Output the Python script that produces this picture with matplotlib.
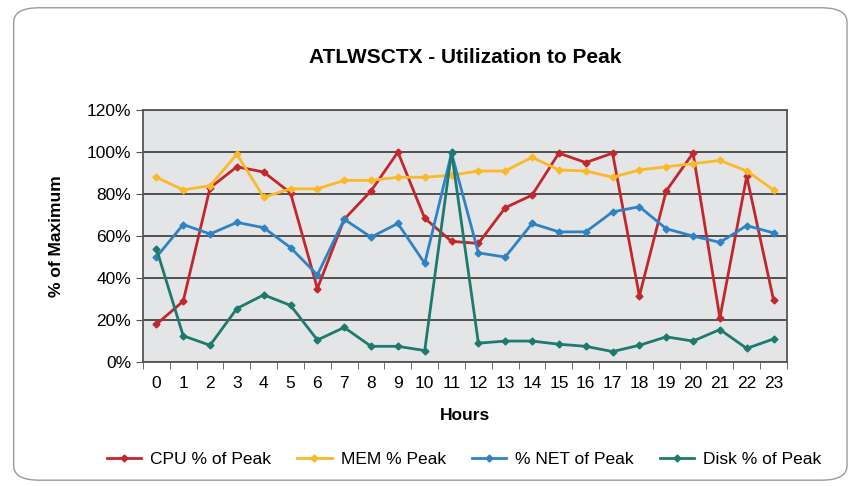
import numpy as np
import matplotlib.pyplot as plt
from matplotlib.patches import FancyBboxPatch
from matplotlib.ticker import FuncFormatter, FixedLocator

plt.rcParams['font.family'] = ['Liberation Sans Narrow', 'Liberation Sans', 'DejaVu Sans']

hours = list(range(24))
cpu = [18, 29, 83, 93, 90.5, 80.5, 35, 68, 81.5, 100, 68.5, 57.5,
       56.5, 73.5, 79.5, 99.5, 95, 99.5, 31.5, 81.5, 99.5, 21, 88.5, 29.5]
mem = [88, 82, 84, 99, 78.5, 82.5, 82.5, 86.5, 86.5, 88, 88, 89,
       91, 91, 97.5, 91.5, 91, 88, 91.5, 93, 94.5, 96, 91, 82]
net = [50, 65.5, 61, 66.5, 64, 54.5, 41.5, 68, 59.5, 66, 47, 99.5,
       52, 50, 66, 62, 62, 71.5, 74, 63.5, 60, 57, 65, 61.5]
disk = [54, 12.5, 8, 25.5, 32, 27, 10.5, 16.5, 7.5, 7.5, 5.5, 100,
        9, 10, 10, 8.5, 7.5, 5, 8, 12, 10, 15.5, 6.5, 11]

series = [
    ('CPU % of Peak', cpu, '#c1272d'),
    ('MEM % Peak', mem, '#fbb829'),
    ('% NET of Peak', net, '#2e83c4'),
    ('Disk % of Peak', disk, '#1d7a6d'),
]

fig = plt.figure(figsize=(8.53, 4.86), dpi=100)

# rounded outer border
border = FancyBboxPatch((0.016, 0.012), 0.977, 0.972,
                        boxstyle='round,pad=0,rounding_size=0.03',
                        transform=fig.transFigure, facecolor='none',
                        edgecolor='#9a9a9a', linewidth=1.0, zorder=-1)
fig.patches.append(border)

ax = fig.add_axes([0.1676, 0.255, 0.755, 0.5185])
ax.set_facecolor('#e4e5e7')

for name, vals, col in series:
    ax.plot(hours, vals, color=col, linewidth=2, marker='D', markersize=3.5,
            label=name, zorder=3)

ax.set_xlim(-0.5, 23.5)
ax.set_ylim(0, 120)
ax.set_yticks(np.arange(0, 121, 20))
ax.yaxis.set_major_formatter(FuncFormatter(lambda v, p: f'{int(v)}%'))
ax.set_xticks(hours)
ax.xaxis.set_minor_locator(FixedLocator(np.arange(-0.5, 24, 1)))
ax.tick_params(axis='x', which='major', length=0, labelsize=12.5, pad=10)
ax.tick_params(axis='x', which='minor', length=5, color='#555555')
ax.tick_params(axis='y', length=5, labelsize=12.5, color='#555555')
ax.grid(axis='y', color='#444444', linewidth=1.3, zorder=1)
ax.set_axisbelow(True)
for s in ax.spines.values():
    s.set_color('#555555')
    s.set_linewidth(1.3)

ax.set_title('ATLWSCTX - Utilization to Peak', fontsize=15, fontweight='bold', pad=34)
ax.set_xlabel('Hours', fontsize=12.5, fontweight='bold', labelpad=12)
ax.set_ylabel('% of Maximum', fontsize=12.5, fontweight='bold', labelpad=16)

fig.legend(loc='center', bbox_to_anchor=(0.544, 0.055), ncol=4, frameon=False,
           fontsize=12.5, handlelength=2.0, columnspacing=1.5, handletextpad=0.5)

fig.savefig('out.png', dpi=100)
